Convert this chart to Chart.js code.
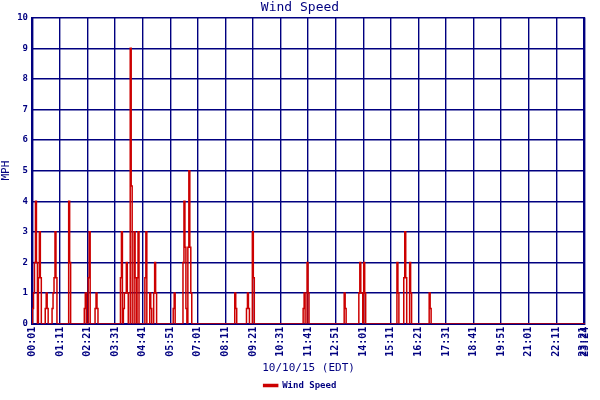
<!DOCTYPE html>
<html>
<head>
<script src="https://cdn.jsdelivr.net/npm/chart.js@4"></script>
<style>
  body { margin: 0; background: #fff; }
  #wrap { width: 600px; height: 400px; }
</style>
</head>
<body>
<div id="wrap"><canvas id="windChart"></canvas></div>
<script>
// one sample per ~2.5 minutes over the day, readings are zero except these
const sampleCount = 566;
const spikeIdx = [1,2,3,4,5,7,8,9,14,15,16,21,22,23,24,25,38,39,54,55,58,59,65,66,67,
  91,92,94,95,96,97,98,101,102,105,106,108,109,116,117,121,122,125,126,127,145,146,
  155,156,157,158,160,161,162,163,208,209,220,221,222,226,227,278,279,282,283,
  320,321,335,336,337,338,340,341,374,375,381,382,383,387,388,407,408];
const spikeVal = [0.5,1,2,4,2,1.5,3,1.5,0.5,1,0.5,0.5,1,1.5,3,1.5,4,2,0.5,1,1.5,3,0.5,1,0.5,
  1.5,3,0.5,1,1,2,1,9,4.5,3,1.5,1.5,3,1.5,3,1,0.5,1,2,1,0.5,1,
  2,4,2.5,0.5,2.5,5,2.5,1,1,0.5,0.5,1,0.5,3,1.5,0.5,1,2,1,
  1,0.5,1,2,1,1,2,1,2,1,1.5,3,1.5,2,1,1,0.5];
const tickMinutes = [1,71,141,211,281,351,421,491,561,631,701,771,841,911,981,1051,1121,1191,1261,1331,1401,1404];
const axisEnd = 1404;

const minutesPerSample = axisEnd / sampleCount;
const points = [];
for (let i = 0; i <= sampleCount; i++) {
  const k = spikeIdx.indexOf(i);
  points.push({ x: i * minutesPerSample, y: k >= 0 ? spikeVal[k] : 0 });
}

function hhmm(m) {
  const h = Math.floor(m / 60), mm = Math.round(m % 60);
  return String(h).padStart(2, "0") + ":" + String(mm).padStart(2, "0");
}

const navy = "#000080";
const mono = "'DejaVu Sans Mono', monospace";

new Chart(document.getElementById("windChart"), {
  type: "line",
  data: {
    datasets: [{
      label: "Wind Speed",
      data: points,
      borderColor: "#cc0000",
      backgroundColor: "#cc0000",
      borderWidth: 1.5,
      pointRadius: 0,
      stepped: "middle",
    }],
  },
  options: {
    responsive: true,
    maintainAspectRatio: false,
    animation: false,
    layout: { padding: { top: 0, right: 0, left: 0, bottom: 0 } },
    plugins: {
      title: {
        display: true, text: "Wind Speed", color: navy,
        font: { family: mono, size: 13, weight: "normal" }, padding: { top: 0, bottom: 2 },
      },
      legend: {
        position: "bottom",
        labels: {
          color: navy, font: { family: mono, size: 9, weight: "bold" },
          boxWidth: 14, boxHeight: 2, padding: 0,
        },
      },
      tooltip: { enabled: false },
    },
    scales: {
      x: {
        type: "linear", min: 0, max: axisEnd,
        afterBuildTicks: (axis) => { axis.ticks = tickMinutes.map(v => ({ value: v })); },
        ticks: {
          autoSkip: false, maxRotation: 90, minRotation: 90, color: navy,
          font: { family: mono, size: 10, weight: "bold" }, padding: 3,
          callback: (v) => hhmm(v),
        },
        grid: { color: navy, lineWidth: 1.4, drawTicks: false },
        border: { color: navy, width: 2 },
        title: {
          display: true, text: "10/10/15 (EDT)", color: navy,
          font: { family: mono, size: 11 }, padding: { top: 2, bottom: 6 },
        },
      },
      y: {
        min: 0, max: 10,
        ticks: { stepSize: 1, color: navy, font: { family: mono, size: 9, weight: "bold" }, padding: 4 },
        grid: { color: navy, lineWidth: 1.4, drawTicks: false },
        border: { color: navy, width: 2 },
        title: {
          display: true, text: "MPH", color: navy,
          font: { family: mono, size: 11 }, padding: 0,
        },
      },
    },
  },
});
</script>
</body>
</html>
